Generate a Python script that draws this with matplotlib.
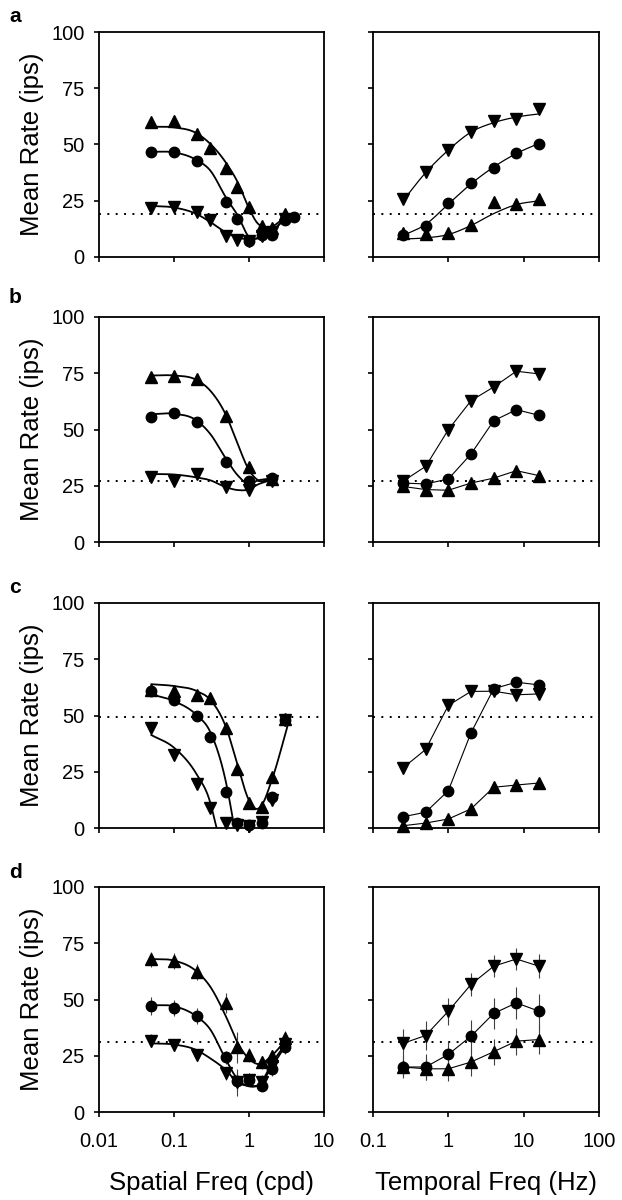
import numpy as np
import matplotlib
matplotlib.use("Agg")
import matplotlib.pyplot as plt
from matplotlib.ticker import FixedLocator, FixedFormatter, NullLocator

plt.rcParams["font.family"] = ["Liberation Sans", "DejaVu Sans"]

nan = np.nan

# spatial frequency (cpd) and temporal frequency (Hz) sampled
sf_a = [0.05, 0.1, 0.2, 0.3, 0.5, 0.7, 1, 1.5, 2, 3, 4]
sf_b = [0.05, 0.1, 0.2, 0.5, 1, 2]
sf_c = [0.05, 0.1, 0.2, 0.3, 0.5, 0.7, 1, 1.5, 2, 3]
sf_d = [0.05, 0.1, 0.2, 0.5, 0.7, 1, 1.5, 2, 3]
tf = [0.25, 0.5, 1, 2, 4, 8, 16]

# spontaneous rate (dotted line) per row
baseline = [18.9, 27.2, 49.3, 31.2]

# row a, spatial
sf_up_a = [60.2, 60.5, 54.7, 48.3, 39.4, 31.2, 22.0, 13.8, 13.0, 19.3, nan]
sf_circ_a = [46.8, 46.5, 42.8, nan, 24.5, 16.8, 7.0, 9.7, 9.7, 16.6, 17.8]
sf_down_a = [21.6, 22.1, 20.1, 16.4, 9.3, 7.6, 7.0, 9.5, 11.0, 17.0, nan]
fit_x_a = [0.05, 0.1, 0.2, 0.3, 0.5, 0.7, 1, 1.3, 1.5, 2, 3, 4]
fit_up_a = [57.9, 57.6, 55.0, 50.5, 41.6, 33.5, 21.6, 15.0, 13.5, 13.5, 17.2, 18.0]
fit_circ_a = [46.8, 46.5, 43.1, 38.7, 26.1, 18.7, 9.0, 8.3, 9.0, 11.3, 16.6, 18.0]
fit_down_a = [22.7, 22.0, 19.1, 15.7, 10.8, 8.7, 7.9, 8.3, 9.0, 11.3, 16.6, 18.0]

# row a, temporal
tf_up_a = [10.7, 10.1, 10.8, 14.1, 24.5, 23.5, 25.7]
tf_circ_a = [9.7, 13.8, 24.2, 33.1, 39.7, 46.4, 50.2]
tf_down_a = [25.6, 37.9, 47.5, 55.7, 60.6, 61.4, 65.7]
tfit_up_a = [8.0, 8.5, 10.0, 14.0, 19.3, 23.3, 25.0]
tfit_circ_a = [9.5, 14.5, 23.5, 32.5, 40.0, 46.0, 50.5]
tfit_down_a = [25.0, 37.5, 47.5, 55.5, 59.7, 62.2, 63.6]

# row b, spatial
sf_up_b = [73.3, 73.9, 72.4, 56.2, 33.5, 28.0]
sf_circ_b = [55.4, 57.5, 53.5, 35.7, 27.1, 28.6]
sf_down_b = [28.7, 27.3, 30.2, 24.3, 23.1, 27.3]
fit_x_b = [0.05, 0.1, 0.2, 0.3, 0.5, 0.7, 1, 1.3, 2]
fit_up_b = [74.0, 74.0, 72.0, 67.5, 56.0, 43.9, 32.0, 27.6, 28.0]
fit_circ_b = [56.8, 57.0, 54.0, 48.3, 36.7, 29.8, 25.8, 27.3, 28.2]
fit_down_b = [30.2, 30.0, 28.7, 27.5, 24.3, 23.1, 23.4, 25.5, 27.6]

# row b, temporal
tf_up_b = [24.7, 23.3, 23.0, 26.2, 28.4, 31.7, 29.5]
tf_circ_b = [26.2, 25.8, 28.0, 39.1, 53.9, 58.8, 56.3]
tf_down_b = [27.0, 33.6, 49.9, 62.8, 68.9, 75.9, 74.7]

# row c, spatial
sf_up_c = [61.5, 60.9, 59.1, 57.9, 44.3, 26.4, 11.0, 9.5, 22.7, 48.3]
sf_circ_c = [60.9, 56.7, 49.8, 40.4, 16.1, 2.4, 1.3, 2.4, 13.8, 47.9]
sf_down_c = [44.3, 32.4, 19.4, 8.7, 2.4, 1.5, 1.0, 2.5, 12.3, 48.0]
fit_up_c_x = [0.05, 0.1, 0.2, 0.3, 0.5, 0.7, 1, 1.3, 1.5, 2, 3.5]
fit_up_c = [63.9, 63.1, 60.9, 57.2, 44.3, 28.3, 12.3, 8.5, 10.5, 21.0, 49.0]
fit_circ_c_x = [0.05, 0.1, 0.2, 0.3, 0.5, 0.64]
fit_circ_c = [59.4, 56.4, 50.2, 43.1, 19.4, 0.0]
fit_down_c_x = [0.05, 0.1, 0.2, 0.3, 0.37]
fit_down_c = [41.3, 35.7, 23.9, 12.0, 0.0]

# row c, temporal
tf_up_c = [1.0, 2.2, 4.0, 8.5, 18.1, 19.1, 20.0]
tf_circ_c = [5.0, 7.0, 16.6, 42.3, 61.9, 64.8, 63.6]
tf_down_c = [26.7, 34.9, 54.5, 60.7, 60.8, 59.2, 59.6]

# row d, spatial (population mean +- sem)
sf_up_d = [67.8, 67.0, 62.3, 48.4, 28.7, 25.3, 22.1, 24.7, 32.7]
sf_circ_d = [47.3, 46.2, 42.8, 24.3, 13.9, 14.4, 11.4, 19.1, 28.7]
sf_down_d = [31.7, 29.8, 25.3, 17.2, 13.2, 14.4, 13.5, 20.3, 30.2]
sf_up_err_d = [3.5, 3.5, 3.5, 4.5, 7.0, 3.0, 3.0, 3.0, 3.5]
sf_circ_err_d = [4.0, 3.5, 3.5, 3.0, 4.0, 3.0, 2.0, 3.0, 3.0]
sf_down_err_d = [3.0, 2.5, 2.5, 3.0, 6.0, 3.0, 3.0, 3.0, 3.0]
fit_x_d = [0.05, 0.1, 0.2, 0.3, 0.5, 0.7, 1, 1.4, 2, 3.2]
fit_up_d = [68.0, 67.3, 62.5, 56.0, 42.0, 31.0, 23.6, 21.3, 25.0, 32.4]
fit_circ_d = [47.5, 47.0, 42.5, 37.0, 22.8, 14.7, 11.4, 12.4, 19.9, 30.5]
fit_down_d = [30.5, 30.0, 27.5, 24.0, 18.4, 13.2, 11.7, 12.5, 21.4, 31.0]

# row d, temporal
tf_up_d = [20.0, 19.2, 19.2, 22.2, 26.8, 31.5, 32.2]
tf_circ_d = [20.0, 20.0, 25.6, 33.7, 43.8, 48.5, 44.8]
tf_down_d = [30.5, 34.0, 44.8, 56.7, 64.8, 68.0, 64.8]
tf_up_err_d = [4.0, 5.0, 5.5, 6.0, 5.8, 6.0, 6.5]
tf_circ_err_d = [4.7, 5.6, 6.0, 7.0, 7.0, 7.0, 7.8]
tf_down_err_d = [6.4, 6.3, 6.0, 5.3, 5.0, 5.0, 5.4]

panel_letters = ["a", "b", "c", "d"]


def smooth(xk, yk, n=300):
    """Cubic Hermite through the knots, in log-x."""
    lx = np.log10(np.asarray(xk, float))
    yk = np.asarray(yk, float)
    h = np.diff(lx)
    d = np.diff(yk) / h
    m = np.empty_like(yk)
    m[0], m[-1] = d[0], d[-1]
    m[1:-1] = (h[1:] * d[:-1] + h[:-1] * d[1:]) / (h[:-1] + h[1:])
    xs = np.linspace(lx[0], lx[-1], n)
    i = np.clip(np.searchsorted(lx, xs) - 1, 0, len(h) - 1)
    t = (xs - lx[i]) / h[i]
    y = ((2 * t**3 - 3 * t**2 + 1) * yk[i] + (t**3 - 2 * t**2 + t) * h[i] * m[i]
         + (-2 * t**3 + 3 * t**2) * yk[i + 1] + (t**3 - t**2) * h[i] * m[i + 1])
    return 10**xs, y


MK = {"up": dict(marker="^", ms=8), "circ": dict(marker="o", ms=7.5),
      "down": dict(marker="v", ms=8)}


def points(ax, x, y, kind, err=None, line=False, lw=0.8):
    style = MK[kind]
    ls = "-" if line else "none"
    if err is not None:
        ax.errorbar(x, y, yerr=err, fmt="none", ecolor="0.25", elinewidth=0.8,
                    capsize=0, zorder=2)
    ax.plot(x, y, linestyle=ls, lw=lw, color="black", marker=style["marker"],
            ms=style["ms"], mfc="black", mec="black", zorder=3, clip_on=False)


def curve(ax, xk, yk, lw=1.3):
    xs, ys = smooth(xk, yk)
    ax.plot(xs, ys, color="black", lw=lw, zorder=2)


def style_axes(ax, xlim, xticks, xlabels, show_x, show_y):
    ax.set_xscale("log")
    ax.set_xlim(*xlim)
    ax.set_ylim(0, 100)
    ax.xaxis.set_major_locator(FixedLocator(xticks))
    ax.xaxis.set_minor_locator(NullLocator())
    if show_x:
        ax.xaxis.set_major_formatter(FixedFormatter(xlabels))
    else:
        ax.set_xticklabels([])
    ax.set_yticks([0, 25, 50, 75, 100])
    if not show_y:
        ax.set_yticklabels([])
    for s in ax.spines.values():
        s.set_linewidth(1.3)
    ax.tick_params(direction="out", length=3.5, width=1.2, labelsize=14.5)
    ax.tick_params(axis="y", pad=7)
    ax.tick_params(axis="x", pad=11)


fig = plt.figure(figsize=(6.22, 12), dpi=100)

W, H = 622.0, 1200.0
row_tops = [32, 317, 603, 887]
letter_y = [17, 297, 587, 872]
ax_h = 225

sf_rows = [
    (sf_a, sf_up_a, sf_circ_a, sf_down_a),
    (sf_b, sf_up_b, sf_circ_b, sf_down_b),
    (sf_c, sf_up_c, sf_circ_c, sf_down_c),
    (sf_d, sf_up_d, sf_circ_d, sf_down_d),
]
tf_rows = [
    (tf_up_a, tf_circ_a, tf_down_a),
    (tf_up_b, tf_circ_b, tf_down_b),
    (tf_up_c, tf_circ_c, tf_down_c),
    (tf_up_d, tf_circ_d, tf_down_d),
]
sf_fits = [
    [(fit_x_a, fit_up_a), (fit_x_a, fit_circ_a), (fit_x_a, fit_down_a)],
    [(fit_x_b, fit_up_b), (fit_x_b, fit_circ_b), (fit_x_b, fit_down_b)],
    [(fit_up_c_x, fit_up_c), (fit_circ_c_x, fit_circ_c), (fit_down_c_x, fit_down_c)],
    [(fit_x_d, fit_up_d), (fit_x_d, fit_circ_d), (fit_x_d, fit_down_d)],
]

for r in range(4):
    bottom = 1 - (row_tops[r] + ax_h) / H
    axL = fig.add_axes([99 / W, bottom, 225 / W, ax_h / H])
    axR = fig.add_axes([373 / W, bottom, 226 / W, ax_h / H])
    last = r == 3

    # spatial panel
    x, up, circ, down = sf_rows[r]
    for fx, fy in sf_fits[r]:
        curve(axL, fx, fy)
    errs = (sf_up_err_d, sf_circ_err_d, sf_down_err_d) if last else (None,) * 3
    points(axL, x, up, "up", errs[0])
    points(axL, x, circ, "circ", errs[1])
    points(axL, x, down, "down", errs[2])
    axL.axhline(baseline[r], color="black", lw=1.4, ls=(0, (1, 3.3)), zorder=1)
    style_axes(axL, (0.01, 10), [0.01, 0.1, 1, 10], ["0.01", "0.1", "1", "10"],
               last, True)
    axL.set_ylabel("Mean Rate (ips)", fontsize=18.5)
    axL.yaxis.set_label_coords(-0.245, 0.5)

    # temporal panel
    up, circ, down = tf_rows[r]
    if r == 0:
        curve(axR, tf, tfit_up_a, lw=0.9)
        curve(axR, tf, tfit_circ_a, lw=0.9)
        curve(axR, tf, tfit_down_a, lw=0.9)
        points(axR, tf, up, "up")
        points(axR, tf, circ, "circ")
        points(axR, tf, down, "down")
    else:
        errs = (tf_up_err_d, tf_circ_err_d, tf_down_err_d) if last else (None,) * 3
        points(axR, tf, up, "up", errs[0], line=True)
        points(axR, tf, circ, "circ", errs[1], line=True)
        points(axR, tf, down, "down", errs[2], line=True)
    axR.axhline(baseline[r], color="black", lw=1.4, ls=(0, (1, 3.3)), zorder=1)
    style_axes(axR, (0.1, 100), [0.1, 1, 10, 100], ["0.1", "1", "10", "100"],
               last, False)

    if last:
        axL.set_xlabel("Spatial Freq (cpd)", fontsize=18.5, labelpad=14)
        axR.set_xlabel("Temporal Freq (Hz)", fontsize=18.5, labelpad=14)

    fig.text(9 / W, 1 - letter_y[r] / H, panel_letters[r], ha="left", va="center",
             fontsize=15, fontweight="bold")

fig.savefig("out.png", dpi=100)
